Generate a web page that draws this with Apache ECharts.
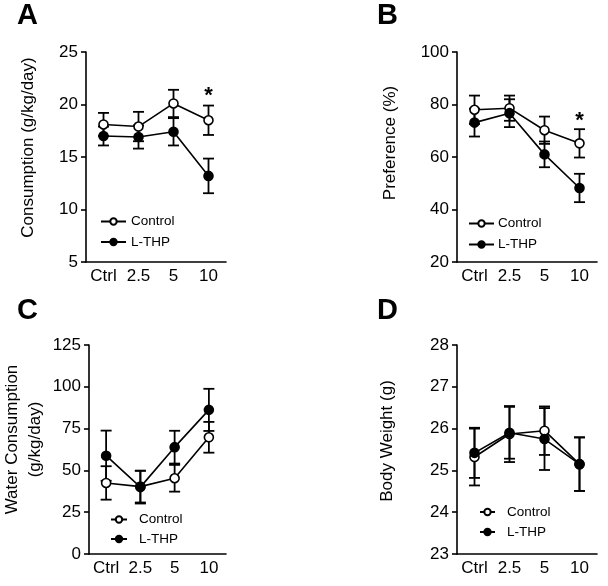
<!DOCTYPE html>
<html>
<head>
<meta charset="utf-8">
<script src="https://cdn.jsdelivr.net/npm/echarts@6/dist/echarts.min.js"></script>
<style>html,body{margin:0;padding:0;background:#fff;}#c{width:608px;height:586px;}</style>
</head>
<body>
<div id="c"></div>
<script>
// ---- data ----
var categories = ['Ctrl', '2.5', '5', '10'];

// Panel A: Consumption (g/kg/day)
var aControlMean = [18.1, 17.9, 20.1, 18.5];
var aControlSem  = [1.1, 1.4, 1.3, 1.4];
var aThpMean     = [17.0, 16.9, 17.4, 13.2];
var aThpSem      = [0.9, 1.1, 1.3, 1.65];
var aStars       = [[3, 21.2]];

// Panel B: Preference (%)
var bControlMean = [78.0, 78.6, 70.2, 65.2];
var bControlSem  = [5.4, 4.8, 5.2, 5.4];
var bThpMean     = [73.1, 76.7, 61.0, 48.2];
var bThpSem      = [5.3, 5.3, 4.9, 5.4];
var bStars       = [[3, 75.4]];

// Panel C: Water Consumption (g/kg/day)
var cControlMean = [42.5, 40.3, 45.3, 69.8];
var cControlSem  = [10.0, 9.5, 8.0, 9.2];
var cThpMean     = [58.8, 40.0, 63.9, 86.2];
var cThpSem      = [15.0, 9.8, 9.8, 12.6];

// Panel D: Body Weight (g)
var dControlMean = [25.32, 25.87, 25.95, 25.15];
var dControlSem  = [0.68, 0.67, 0.58, 0.64];
var dThpMean     = [25.42, 25.90, 25.75, 25.15];
var dThpSem      = [0.60, 0.62, 0.74, 0.64];

var yMinA = 5,  yMaxA = 25,  yStepA = 5;
var yMinB = 20, yMaxB = 100, yStepB = 20;
var yMinC = 0,  yMaxC = 125, yStepC = 25;
var yMinD = 23, yMaxD = 28,  yStepD = 1;

// ---- chart ----
var FONT = 'Liberation Sans, Arial, Helvetica, sans-serif';
var chart = echarts.init(document.getElementById('c'), null, {renderer: 'canvas'});

function errData(mean, sem) {
  return mean.map(function (m, i) { return [i, m - sem[i], m + sem[i]]; });
}
function errSeries(idx, mean, sem) {
  return {
    type: 'custom', xAxisIndex: idx, yAxisIndex: idx, z: 1, silent: true,
    data: errData(mean, sem),
    renderItem: function (params, api) {
      var lo = api.coord([api.value(0), api.value(1)]);
      var hi = api.coord([api.value(0), api.value(2)]);
      var w = 5.5;
      var st = {stroke: '#000', lineWidth: 1.8};
      return {type: 'group', children: [
        {type: 'line', shape: {x1: lo[0], y1: lo[1], x2: hi[0], y2: hi[1]}, style: st},
        {type: 'line', shape: {x1: lo[0] - w, y1: lo[1], x2: lo[0] + w, y2: lo[1]}, style: st},
        {type: 'line', shape: {x1: hi[0] - w, y1: hi[1], x2: hi[0] + w, y2: hi[1]}, style: st}
      ]};
    }
  };
}
function starSeries(idx, stars) {
  return {
    type: 'custom', xAxisIndex: idx, yAxisIndex: idx, z: 5, silent: true,
    data: stars,
    renderItem: function (params, api) {
      var p = api.coord([api.value(0), api.value(1)]);
      return {type: 'text', x: p[0], y: p[1] + 4, style: {
        text: '*', fill: '#000', font: 'bold 22px ' + FONT, textAlign: 'center', textVerticalAlign: 'middle'}};
    }
  };
}
function lineSeries(idx, name, mean, filled) {
  return {
    type: 'line', name: name, xAxisIndex: idx, yAxisIndex: idx, z: filled ? 4 : 3,
    data: mean, symbol: 'circle', symbolSize: 9,
    showAllSymbol: true,
    color: '#000',
    lineStyle: {color: '#000', width: 1.6},
    itemStyle: {color: filled ? '#000' : '#fff', borderColor: '#000', borderWidth: 1.6},
    emphasis: {disabled: true}
  };
}

var grids = [
  {left: 86, top: 52, width: 140, height: 210},
  {left: 457, top: 52, width: 140, height: 210},
  {left: 87, top: 345, width: 139, height: 209},
  {left: 457, top: 345, width: 140, height: 209}
];
var axisLineStyle = {color: '#000', width: 1.6};

function xAx(idx) {
  return {
    type: 'category', gridIndex: idx, data: categories, boundaryGap: true,
    axisLine: {lineStyle: axisLineStyle},
    axisTick: {alignWithLabel: true, length: 5, lineStyle: axisLineStyle},
    axisLabel: {color: '#000', fontSize: 17, fontFamily: FONT, margin: 6, interval: 0}
  };
}
function yAx(idx, min, max, step, name, gap, shiftUp) {
  return {
    type: 'value', gridIndex: idx, min: min, max: max, interval: step,
    name: name, nameLocation: 'middle', nameGap: gap, nameRotate: 90,
    nameTextStyle: {color: '#000', fontSize: 17, fontFamily: FONT, lineHeight: 23,
      padding: [0, 0, 0, shiftUp * 2]},
    axisLine: {show: true, lineStyle: axisLineStyle},
    axisTick: {show: true, length: 5, lineStyle: axisLineStyle},
    splitLine: {show: false},
    axisLabel: {color: '#000', fontSize: 17, fontFamily: FONT, margin: 8}
  };
}
function legend(left, top, gap, itemWidth, itemHeight, textPad) {
  return {
    data: ['Control', 'L-THP'], orient: 'vertical', left: left, top: top,
    itemGap: gap, itemWidth: itemWidth, itemHeight: itemHeight, padding: 0,
    selectedMode: false,
    textStyle: {color: '#000', fontSize: 13.5, fontFamily: FONT, padding: [0, 0, 0, textPad]}
  };
}

var option = {
  animation: false,
  backgroundColor: '#fff',
  grid: grids,
  xAxis: [xAx(0), xAx(1), xAx(2), xAx(3)],
  yAxis: [
    yAx(0, yMinA, yMaxA, yStepA, 'Consumption (g/kg/day)', 46, 9.5),
    yAx(1, yMinB, yMaxB, yStepB, 'Preference (%)', 55, 14),
    yAx(2, yMinC, yMaxC, yStepC, 'Water Consumption\n(g/kg/day)', 42, 10),
    yAx(3, yMinD, yMaxD, yStepD, 'Body Weight (g)', 58, 8.5)
  ],
  legend: [
    legend(100, 214.5, 6.5, 25, 8, 0),
    legend(468, 216.5, 7, 25, 8, -1),
    legend(110, 512.5, 5.5, 16, 8, 7),
    legend(479, 505, 6, 15, 8, 7)
  ],
  graphic: [
    {type: 'text', left: 17, top: 1, style: {text: 'A', font: 'bold 29px ' + FONT, fill: '#000'}},
    {type: 'text', left: 377, top: 1, style: {text: 'B', font: 'bold 29px ' + FONT, fill: '#000'}},
    {type: 'text', left: 17, top: 296, style: {text: 'C', font: 'bold 29px ' + FONT, fill: '#000'}},
    {type: 'text', left: 377, top: 296, style: {text: 'D', font: 'bold 29px ' + FONT, fill: '#000'}}
  ],
  series: [
    errSeries(0, aControlMean, aControlSem), errSeries(0, aThpMean, aThpSem),
    lineSeries(0, 'Control', aControlMean, false), lineSeries(0, 'L-THP', aThpMean, true),
    starSeries(0, aStars),

    errSeries(1, bControlMean, bControlSem), errSeries(1, bThpMean, bThpSem),
    lineSeries(1, 'Control', bControlMean, false), lineSeries(1, 'L-THP', bThpMean, true),
    starSeries(1, bStars),

    errSeries(2, cControlMean, cControlSem), errSeries(2, cThpMean, cThpSem),
    lineSeries(2, 'Control', cControlMean, false), lineSeries(2, 'L-THP', cThpMean, true),

    errSeries(3, dControlMean, dControlSem), errSeries(3, dThpMean, dThpSem),
    lineSeries(3, 'Control', dControlMean, false), lineSeries(3, 'L-THP', dThpMean, true)
  ]
};
chart.setOption(option);
</script>
</body>
</html>
